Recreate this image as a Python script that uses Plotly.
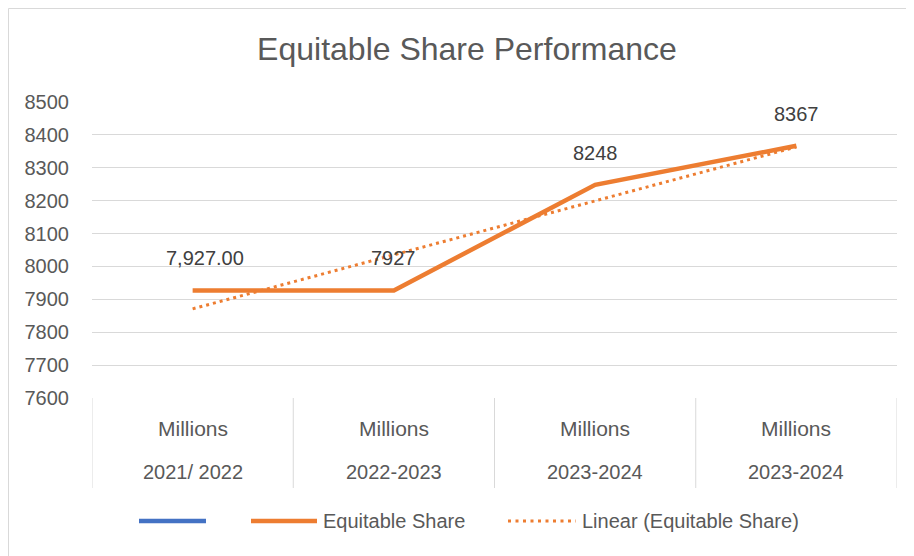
import numpy as np
import plotly.graph_objects as go

# ---- data ----
cat_top = ["Millions", "Millions", "Millions", "Millions"]
cat_bottom = ["2021/ 2022", "2022-2023", "2023-2024", "2023-2024"]
values = [7927, 7927, 8248, 8367]
value_labels = ["7,927.00", "7927", "8248", "8367"]
y_ticks = [7600, 7700, 7800, 7900, 8000, 8100, 8200, 8300, 8400, 8500]
legend_names = ["", "Equitable Share", "Linear (Equitable Share)"]

ORANGE = "#ED7D31"
BLUE = "#4472C4"
TXT = "#595959"
GRID = "#D9D9D9"
FONT = "Liberation Sans"

# page body has an 8px margin; work in page pixels and convert
OFF = 8
W, H = 914 - OFF, 556 - OFF
PL, PR, PT, PB = 92, 897, 102, 398  # plot area in page pixels
L, T = PL - OFF, PT - OFF
R, B = W - (PR - OFF), H - (PB - OFF)
PW, PH = PR - PL, PB - PT


def px(xp):
    return (xp - PL) / PW


def py(yp):
    return (PB - yp) / PH


xs = np.arange(1, len(values) + 1)
coef = np.polyfit(xs, values, 1)
trend = np.polyval(coef, xs)

fig = go.Figure()
fig.add_trace(go.Scatter(x=xs, y=trend, mode="lines", name=legend_names[2],
                         line=dict(color=ORANGE, width=3, dash="3px,4px"),
                         showlegend=False, hoverinfo="skip"))
fig.add_trace(go.Scatter(x=xs, y=values, mode="lines", name=legend_names[1],
                         line=dict(color=ORANGE, width=4.5),
                         showlegend=False))

shapes = []
annotations = []

# data labels
xshifts = [12, 0, 0, 0]
for i, (v, lab) in enumerate(zip(values, value_labels)):
    annotations.append(dict(x=xs[i], y=v, xref="x", yref="y", text=lab,
                            showarrow=False, yshift=32, xshift=xshifts[i],
                            yanchor="middle",
                            font=dict(family=FONT, size=20, color="#404040")))

# category table
n = len(values)
for k in range(n + 1):
    shapes.append(dict(type="line", xref="x", yref="paper",
                       x0=0.5 + k, x1=0.5 + k, y0=0, y1=py(488),
                       line=dict(color=GRID, width=1)))
for i in range(n):
    annotations.append(dict(x=xs[i], y=py(428), xref="x", yref="paper",
                            text=cat_top[i], showarrow=False, yanchor="middle",
                            font=dict(family=FONT, size=21, color=TXT)))
    annotations.append(dict(x=xs[i], y=py(472), xref="x", yref="paper",
                            text=cat_bottom[i], showarrow=False, yanchor="middle",
                            font=dict(family=FONT, size=20, color=TXT)))

# outer border
shapes.append(dict(type="rect", xref="paper", yref="paper",
                   x0=px(8.5), x1=px(930), y0=py(570), y1=py(8.5),
                   line=dict(color=GRID, width=1), fillcolor="rgba(0,0,0,0)"))

# legend (manual, Excel style)
ly = py(521)
shapes.append(dict(type="line", xref="paper", yref="paper", x0=px(139), x1=px(206),
                   y0=ly, y1=ly, line=dict(color=BLUE, width=4.5)))
shapes.append(dict(type="line", xref="paper", yref="paper", x0=px(251), x1=px(317),
                   y0=ly, y1=ly, line=dict(color=ORANGE, width=4.5)))
shapes.append(dict(type="line", xref="paper", yref="paper", x0=px(508), x1=px(576),
                   y0=ly, y1=ly, line=dict(color=ORANGE, width=3, dash="3px,4.5px")))
annotations.append(dict(x=px(321), y=ly, xref="paper", yref="paper", text=legend_names[1],
                        xanchor="left", yanchor="middle", showarrow=False,
                        font=dict(family=FONT, size=20, color=TXT)))
annotations.append(dict(x=px(580), y=ly, xref="paper", yref="paper", text=legend_names[2],
                        xanchor="left", yanchor="middle", showarrow=False,
                        font=dict(family=FONT, size=20, color=TXT)))

fig.update_layout(
    width=W, height=H,
    margin=dict(l=L, r=R, t=T, b=B, pad=0),
    paper_bgcolor="white", plot_bgcolor="white",
    title=dict(text="Equitable Share Performance", x=px(467), xref="paper",
               xanchor="center",
               y=1 - (49 - OFF) / H, yref="container", yanchor="middle",
               font=dict(family=FONT, size=32, color=TXT)),
    xaxis=dict(range=[0.5, n + 0.5], showticklabels=False, showgrid=False,
               zeroline=False, showline=False, fixedrange=True),
    yaxis=dict(range=[y_ticks[0], y_ticks[-1]], tickvals=y_ticks,
               ticktext=[str(t) for t in y_ticks],
               showgrid=True, gridcolor=GRID, gridwidth=1, zeroline=False,
               showline=False, ticks="", ticklabelstandoff=22,
               tickfont=dict(family=FONT, size=20, color=TXT)),
    shapes=shapes, annotations=annotations, showlegend=False,
)

fig.write_html("out.html")
